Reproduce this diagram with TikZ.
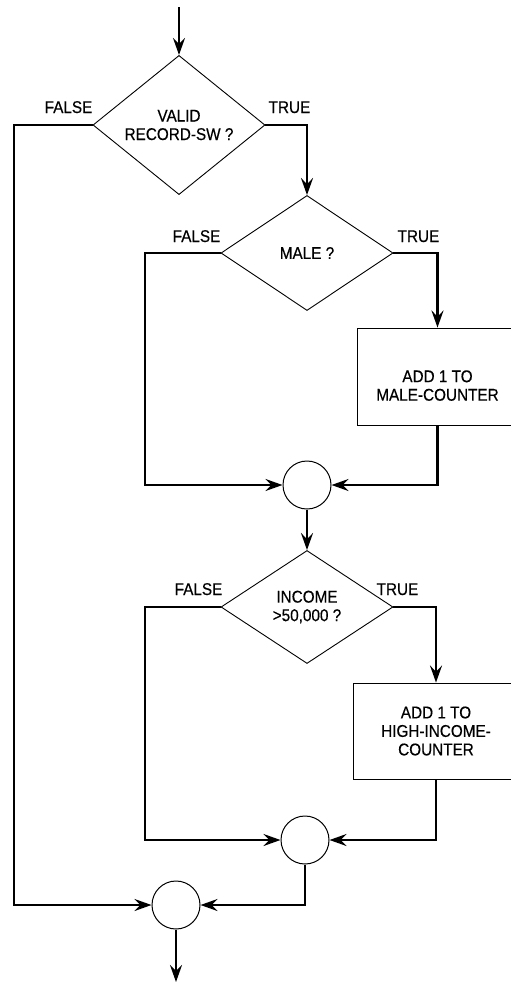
\documentclass[tikz,border=0pt]{standalone}
\usepackage{fontspec}
\setmainfont{Liberation Sans}[FakeStretch=0.9,FakeBold=0.4]
\usetikzlibrary{shapes.geometric,arrows.meta,positioning}
\begin{document}
\begin{tikzpicture}[x=1pt,y=-1pt,font=\fontsize{17}{18.5}\selectfont,
  dec/.style={diamond,draw,line width=0.9pt,minimum width=172pt,minimum height=115pt,inner sep=0pt,align=center},
  box/.style={rectangle,draw,line width=0.9pt,align=center,inner sep=0pt},
  merge/.style={circle,draw,line width=1pt,minimum size=48pt,inner sep=0pt},
  lbl/.style={inner sep=0pt},
  arr/.style={-{Stealth[length=17pt,width=12pt,inset=6pt]},line width=2.2pt}]
\useasboundingbox (0,0) rectangle (511,983);
\clip (0,0) rectangle (511,983);
\coordinate (in) at (179,7);
\node[dec] (valid) at (179,125) {VALID\\RECORD-SW ?};
\node[dec] (male) at (307,253) {MALE ?};
\node[box,minimum width=161pt,minimum height=97pt] (addm) at (437.5,376.5) {\rule{0pt}{30pt}ADD 1 TO\\MALE-COUNTER};
\node[merge] (j1) at (307,485) {};
\node[dec,minimum height=113pt] (inc) at (307,607) {INCOME\\>50,000 ?};
\node[box,minimum width=166pt,minimum height=96pt] (addh) at (436,731) {ADD 1 TO\\HIGH-INCOME-\\COUNTER};
\node[merge] (j2) at (305,840) {};
\node[merge] (j3) at (176,905) {};
\coordinate (out) at (176,982);
\coordinate (vf) at (14,905);
\coordinate (mf) at (145,485);
\coordinate (if) at (145,840);
% branch labels
\node[lbl,anchor=base east] (vfalse) at ([yshift=12pt]valid.west) {FALSE};
\node[lbl,anchor=base west] (vtrue) at ([xshift=3pt,yshift=12pt]valid.east) {TRUE};
\node[lbl,anchor=base east] (mfalse) at ([yshift=11pt]male.west) {FALSE};
\node[lbl,anchor=base west] (mtrue) at ([xshift=4pt,yshift=11pt]male.east) {TRUE};
\node[lbl,anchor=base east] (ifalse) at ([xshift=2pt,yshift=12pt]inc.west) {FALSE};
\node[lbl,anchor=base west] (itrue) at ([xshift=-17pt,yshift=12pt]inc.east) {TRUE};
% flow
\draw[arr] (in) -- (valid.north);
\draw[arr] (valid.east) -| (male.north);
\draw[arr] (valid.west) -| (vf) -- (j3.west);
\draw[arr] (male.east) -| (addm.north);
\draw[arr] (male.west) -| (mf) -- (j1.west);
\draw[arr] (addm.south) |- (j1.east);
\draw[arr] (j1.south) -- (inc.north);
\draw[arr] (inc.east) -| (addh.north);
\draw[arr] (inc.west) -| (if) -- (j2.west);
\draw[arr] (addh.south) |- (j2.east);
\draw[arr] (j2.south) |- (j3.east);
\draw[arr] (j3.south) -- (out);
\end{tikzpicture}
\end{document}
